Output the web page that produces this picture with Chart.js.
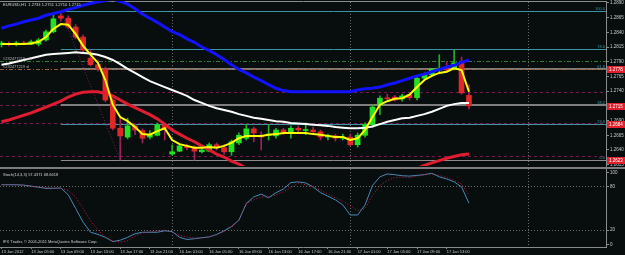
<!DOCTYPE html>
<html>
<head>
<meta charset="utf-8">
<script src="https://cdn.jsdelivr.net/npm/chart.js@4.4.1/dist/chart.umd.min.js"></script>
<style>
  html, body { margin: 0; padding: 0; background: #080e0e; overflow: hidden; }
  #wrap { position: relative; width: 625px; height: 255px; }
  canvas { position: absolute; left: 0; }
  #main { top: 0; }
  #sep { position: absolute; left: 0; top: 167px; width: 625px; height: 2px; background: #7d7d7d; }
  #stoch { top: 169px; }
</style>
</head>
<body>
<div id="wrap">
  <canvas id="main" width="625" height="167"></canvas>
  <div id="sep"></div>
  <canvas id="stoch" width="625" height="86"></canvas>
</div>
<script>
// EURUSD H1, one bar per hour from 13 Jan 01:00 to 17 Jan 16:00
const opens = [1.2819, 1.2820, 1.2819, 1.2822, 1.2820, 1.2820, 1.2827, 1.2841, 1.2868, 1.2864,
  1.2849, 1.2832, 1.2796, 1.2785, 1.2778, 1.2725, 1.2677, 1.2662, 1.2681, 1.2673,
  1.2662, 1.2665, 1.2683, 1.2633, 1.2638, 1.2647, 1.2644, 1.2637, 1.2638, 1.2649,
  1.2644, 1.2637, 1.2652, 1.2660, 1.2676, 1.2664, 1.2665, 1.2664, 1.2674, 1.2669,
  1.2677, 1.2673, 1.2674, 1.2671, 1.2662, 1.2664, 1.2660, 1.2662, 1.2649, 1.2665,
  1.2683, 1.2717, 1.2728, 1.2730, 1.2727, 1.2734, 1.2729, 1.2762, 1.2768, 1.2776,
  1.2778, 1.2779, 1.2788, 1.2733];
const highs = [1.2825, 1.2824, 1.2825, 1.2825, 1.2827, 1.2830, 1.2844, 1.2872, 1.2876, 1.2868,
  1.2853, 1.2836, 1.2810, 1.2793, 1.2781, 1.2728, 1.2694, 1.2694, 1.2684, 1.2676,
  1.2673, 1.2686, 1.2686, 1.2649, 1.2650, 1.2650, 1.2647, 1.2644, 1.2652, 1.2652,
  1.2649, 1.2657, 1.2669, 1.2683, 1.2679, 1.2671, 1.2683, 1.2677, 1.2677, 1.2681,
  1.2681, 1.2686, 1.2679, 1.2674, 1.2667, 1.2667, 1.2667, 1.2667, 1.2669, 1.2686,
  1.2717, 1.2732, 1.2735, 1.2733, 1.2735, 1.2737, 1.2766, 1.2771, 1.2773, 1.2802,
  1.2790, 1.2810, 1.2798, 1.2751];
const lows = [1.2815, 1.2817, 1.2817, 1.2819, 1.2819, 1.2817, 1.2825, 1.2839, 1.2859, 1.2847,
  1.2829, 1.2807, 1.2783, 1.2774, 1.2722, 1.2674, 1.2623, 1.2659, 1.2666, 1.2652,
  1.2659, 1.2664, 1.2657, 1.2631, 1.2637, 1.2640, 1.2623, 1.2635, 1.2637, 1.2640,
  1.2633, 1.2631, 1.2649, 1.2657, 1.2654, 1.2640, 1.2657, 1.2660, 1.2666, 1.2660,
  1.2669, 1.2666, 1.2667, 1.2657, 1.2657, 1.2655, 1.2657, 1.2647, 1.2645, 1.2662,
  1.2679, 1.2700, 1.2723, 1.2723, 1.2723, 1.2725, 1.2725, 1.2759, 1.2766, 1.2773,
  1.2773, 1.2776, 1.2735, 1.2710];
const closes = [1.2822, 1.2819, 1.2822, 1.2820, 1.2824, 1.2827, 1.2841, 1.2863, 1.2864, 1.2849,
  1.2832, 1.2810, 1.2785, 1.2778, 1.2725, 1.2677, 1.2664, 1.2681, 1.2674, 1.2660,
  1.2667, 1.2683, 1.2677, 1.2637, 1.2647, 1.2644, 1.2638, 1.2640, 1.2649, 1.2644,
  1.2637, 1.2654, 1.2665, 1.2676, 1.2669, 1.2662, 1.2667, 1.2674, 1.2671, 1.2677,
  1.2674, 1.2674, 1.2671, 1.2662, 1.2664, 1.2660, 1.2662, 1.2649, 1.2665, 1.2683,
  1.2713, 1.2728, 1.2727, 1.2725, 1.2732, 1.2729, 1.2762, 1.2768, 1.2778, 1.2779,
  1.2776, 1.2788, 1.2737, 1.2715];

// moving averages
const maYellow = [1.2820, 1.2820, 1.2820, 1.2820, 1.2821, 1.2824, 1.2832, 1.2846, 1.2854, 1.2853,
  1.2837, 1.2817, 1.2802, 1.2788, 1.2759, 1.2717, 1.2696, 1.2689, 1.2679, 1.2667,
  1.2666, 1.2672, 1.2677, 1.2657, 1.2650, 1.2647, 1.2644, 1.2644, 1.2645, 1.2644,
  1.2647, 1.2652, 1.2660, 1.2664, 1.2664, 1.2664, 1.2666, 1.2667, 1.2669, 1.2669,
  1.2669, 1.2669, 1.2667, 1.2666, 1.2664, 1.2662, 1.2662, 1.2657, 1.2660, 1.2674,
  1.2696, 1.2717, 1.2723, 1.2727, 1.2728, 1.2734, 1.2747, 1.2759, 1.2766, 1.2771,
  1.2773, 1.2779, 1.2776, 1.2739];
const maWhite = [1.2785, 1.2787, 1.2790, 1.2793, 1.2796, 1.2799, 1.2802, 1.2803, 1.2804, 1.2805,
  1.2806, 1.2805, 1.2804, 1.2802, 1.2798, 1.2793, 1.2786, 1.2778, 1.2771, 1.2764,
  1.2757, 1.2752, 1.2747, 1.2742, 1.2737, 1.2732, 1.2725, 1.2720, 1.2715, 1.2711,
  1.2708, 1.2705, 1.2701, 1.2698, 1.2695, 1.2693, 1.2691, 1.2689, 1.2688, 1.2686,
  1.2685, 1.2684, 1.2683, 1.2682, 1.2681, 1.2679, 1.2678, 1.2677, 1.2677, 1.2678,
  1.2680, 1.2684, 1.2688, 1.2691, 1.2694, 1.2695, 1.2698, 1.2701, 1.2705, 1.2710,
  1.2715, 1.2718, 1.2720, 1.2720];
const maBlue = [1.2847, 1.2851, 1.2854, 1.2858, 1.2861, 1.2864, 1.2869, 1.2872, 1.2875, 1.2879,
  1.2882, 1.2886, 1.2889, 1.2892, 1.2894, 1.2896, 1.2893, 1.2888, 1.2880, 1.2871,
  1.2864, 1.2857, 1.2849, 1.2841, 1.2836, 1.2829, 1.2823, 1.2815, 1.2809, 1.2802,
  1.2794, 1.2785, 1.2777, 1.2771, 1.2764, 1.2758, 1.2751, 1.2745, 1.2741, 1.2739,
  1.2739, 1.2739, 1.2739, 1.2739, 1.2739, 1.2739, 1.2739, 1.2739, 1.2742, 1.2744,
  1.2745, 1.2747, 1.2751, 1.2754, 1.2758, 1.2762, 1.2766, 1.2769, 1.2773, 1.2777,
  1.2781, 1.2784, 1.2789, 1.2793];
const maRed = [1.2688, 1.2691, 1.2695, 1.2699, 1.2703, 1.2708, 1.2713, 1.2718, 1.2723, 1.2730,
  1.2735, 1.2738, 1.2739, 1.2739, 1.2736, 1.2732, 1.2725, 1.2718, 1.2712, 1.2706,
  1.2700, 1.2693, 1.2684, 1.2674, 1.2667, 1.2660, 1.2654, 1.2647, 1.2640, 1.2633,
  1.2628, 1.2621, 1.2616, 1.2609, 1.2603, 1.2597, 1.2592, 1.2588, 1.2584, 1.2581,
  1.2579, 1.2577, 1.2576, 1.2576, 1.2576, 1.2577, 1.2578, 1.2580, 1.2582, 1.2584,
  1.2587, 1.2590, 1.2594, 1.2597, 1.2601, 1.2604, 1.2609, 1.2614, 1.2618, 1.2622,
  1.2626, 1.2629, 1.2632, 1.2633];

// Stoch(14,3,3)
const stochK = [83, 83, 83, 82.5, 81, 79.5, 78, 78, 78.5, 69,
  50, 31, 17, 14, 10, 4, 6, 10, 15, 17,
  17, 17, 19, 18, 10, 7, 8, 9.5, 10.5, 14,
  19, 25, 34, 57, 66, 70, 65, 72, 77, 86,
  87, 85.5, 80, 72, 67, 62, 55, 41, 41, 55,
  82, 94, 98, 97, 95.5, 95, 96, 97, 99, 94,
  91, 87, 80, 57.4371];
const stochD = [83, 83, 82.5, 82, 81, 80, 79, 78.5, 78, 75,
  66, 50, 33, 20, 10, 5, 3.5, 5, 12, 16,
  17.5, 19, 20, 17, 13, 10.5, 9, 9, 11, 13,
  18, 24, 33, 57, 62, 66, 66, 69, 73, 79,
  85, 83, 80, 75, 70, 65, 60, 54, 47, 50,
  68, 82, 89, 93, 93.5, 93, 95, 97, 98, 96,
  93, 89, 84, 68.6618];

// axes
const priceTicks = [1.2615, 1.2640, 1.2665, 1.2690, 1.2715, 1.2740, 1.2765, 1.2790, 1.2815, 1.2840, 1.2865, 1.2890];
const stochTicks = [0, 20, 80, 100];
const stochLevels = [20, 80];
const labelBars = [0, 4, 8, 12, 16, 20, 24, 28, 32, 36, 40, 44, 48, 52, 56, 60];
const timeLabels = ['13 Jan 2012', '13 Jan 05:00', '13 Jan 09:00', '13 Jan 13:00', '13 Jan 17:00', '13 Jan 21:00',
  '16 Jan 01:00', '16 Jan 05:00', '16 Jan 09:00', '16 Jan 13:00', '16 Jan 17:00', '16 Jan 21:00',
  '17 Jan 01:00', '17 Jan 05:00', '17 Jan 09:00', '17 Jan 13:00'];
const gridBars = [23, 47, 71];

// objects on the chart
const fibNames = ['100.0', '78.6', '61.8', '38.2', '23.6', '0.0'];
const fibPrices = [1.2876, 1.2812, 1.2778, 1.2717, 1.2684, 1.2623];
const fibBars = [8, 16];
const pivotPrices = [1.2739, 1.2717, 1.2686, 1.2630];
const orderNames = ['#232477219 sell', '#232477219 sl'];
const orderPrices = [1.2791, 1.2778];
const tagPrices = [1.2778, 1.2715, 1.2684, 1.2623];

const FONT = "'Liberation Sans', sans-serif";
const AXIS = '#8a8a8a';
const GRID = '#6c6c6c';
const TEXT = '#c8c8c8';
const xMin = -0.2, xMax = 81.47;
const fibLook = [
  {color: '#3a94a4', width: 1}, {color: '#3a94a4', width: 1}, {color: '#7e7e7e', width: 2},
  {color: '#7e7e7e', width: 2}, {color: '#3a94a4', width: 1}, {color: '#8c8c8c', width: 1}
];

const bars = opens.map((_, i) => i);
const isUp = bars.map(i => closes[i] >= opens[i]);
const pts = arr => arr.map((v, i) => ({x: i, y: v}));

function maLine(arr, color, width, order) {
  return {type: 'line', data: pts(arr), borderColor: color, borderWidth: width,
    pointRadius: 0, tension: 0, clip: 0, order: order};
}

function hline(ctx, x1, x2, y, color, width, dash) {
  const yy = width % 2 ? Math.round(y) + 0.5 : Math.round(y);
  ctx.save();
  ctx.strokeStyle = color;
  ctx.lineWidth = width;
  ctx.setLineDash(dash || []);
  ctx.beginPath();
  ctx.moveTo(x1, yy);
  ctx.lineTo(x2, yy);
  ctx.stroke();
  ctx.restore();
}

const mainObjects = {
  id: 'mainObjects',
  beforeDatasetsDraw(chart) {
    const {ctx, chartArea: a, scales: {x, y}} = chart;
    ctx.save();
    ctx.beginPath();
    ctx.rect(a.left, a.top, a.right - a.left, a.bottom - a.top);
    ctx.clip();
    pivotPrices.forEach(p => hline(ctx, a.left, a.right, y.getPixelForValue(p), '#761a52', 1, [3, 3]));
    const fx = x.getPixelForValue(fibBars[0]);
    fibPrices.forEach((p, i) => hline(ctx, fx, a.right, y.getPixelForValue(p), fibLook[i].color, fibLook[i].width));
    hline(ctx, a.left, a.right, y.getPixelForValue(orderPrices[0]), '#2f7f3a', 1, [4, 2, 1, 2]);
    hline(ctx, a.left, a.right, y.getPixelForValue(orderPrices[1]), '#9a5a2a', 1, [4, 2, 1, 2]);
    ctx.restore();
  },
  afterDraw(chart) {
    const {ctx, chartArea: a, scales: {y}} = chart;
    const n = opens.length - 1;
    ctx.save();
    ctx.font = '4px ' + FONT;
    ctx.fillStyle = '#d8d8d8';
    ctx.textAlign = 'left';
    ctx.textBaseline = 'top';
    const ohlc = [opens[n], highs[n], lows[n], closes[n]].map(v => v.toFixed(4)).join(' ');
    ctx.fillText('EURUSD,H1  ' + ohlc, 3, 3);

    ctx.textBaseline = 'bottom';
    ctx.fillStyle = '#b4b4b4';
    orderNames.forEach((t, i) => ctx.fillText(t, 3, y.getPixelForValue(orderPrices[i])));

    ctx.textAlign = 'right';
    ctx.fillStyle = '#3a9aaa';
    fibNames.forEach((t, i) => ctx.fillText(t, a.right - 1, y.getPixelForValue(fibPrices[i])));

    ctx.font = '4.5px ' + FONT;
    ctx.textAlign = 'left';
    ctx.textBaseline = 'middle';
    tagPrices.forEach(p => {
      const py = Math.round(y.getPixelForValue(p));
      ctx.fillStyle = '#e0202c';
      ctx.fillRect(a.right + 1, py - 3, 18, 7);
      ctx.fillStyle = '#ffffff';
      ctx.fillText(p.toFixed(4), a.right + 3, py + 0.5);
    });
    ctx.restore();
  }
};

new Chart(document.getElementById('main'), {
  type: 'bar',
  data: {
    datasets: [
      {type: 'line', data: [{x: fibBars[0], y: fibPrices[0]}, {x: fibBars[1], y: fibPrices[5]}],
        borderColor: '#8c1c5c', borderWidth: 1, borderDash: [1, 2], pointRadius: 0, clip: 0, order: 10},
      {data: bars.map(i => ({x: i, y: [lows[i], highs[i]]})),
        backgroundColor: bars.map(i => isUp[i] ? '#22b022' : '#a0205c'),
        barThickness: 1, grouped: false, order: 9},
      {data: bars.map(i => ({x: i, y: [opens[i], closes[i]]})),
        backgroundColor: bars.map(i => isUp[i] ? '#22e022' : '#e02828'),
        barThickness: 5, minBarLength: 1, grouped: false, order: 8},
      maLine(maBlue, '#1212ff', 3, 4),
      maLine(maRed, '#e01c30', 3, 3),
      maLine(maWhite, '#ffffff', 2, 2),
      maLine(maYellow, '#ffff00', 2, 1)
    ]
  },
  options: {
    responsive: false,
    animation: false,
    devicePixelRatio: 1,
    layout: {padding: {top: 1, bottom: 1, left: 0, right: 0}},
    plugins: {legend: {display: false}, tooltip: {enabled: false}},
    scales: {
      x: {
        type: 'linear', position: 'top', min: xMin, max: xMax, offset: false,
        afterBuildTicks: s => { s.ticks = gridBars.map(v => ({value: v})); },
        ticks: {display: false},
        grid: {offset: false, color: GRID, drawTicks: false},
        border: {display: true, color: AXIS, dash: [1, 2]},
        afterFit: s => { s.height = 0; s.paddingLeft = 0; s.paddingRight = 0; }
      },
      y: {
        type: 'linear', position: 'right', min: 1.26128, max: 1.28933, beginAtZero: false,
        afterBuildTicks: s => { s.ticks = priceTicks.map(v => ({value: v})); },
        ticks: {color: TEXT, font: {family: FONT, size: 4.5}, padding: 1, callback: v => v.toFixed(4)},
        grid: {drawOnChartArea: false, tickLength: 3, tickColor: AXIS},
        border: {color: AXIS},
        afterFit: s => { s.width = 19; s.paddingTop = 0; s.paddingBottom = 0; }
      }
    }
  },
  plugins: [mainObjects]
});

const stochText = {
  id: 'stochText',
  afterDraw(chart) {
    const ctx = chart.ctx;
    const n = stochK.length - 1;
    ctx.save();
    ctx.font = '4px ' + FONT;
    ctx.fillStyle = '#d0d0d0';
    ctx.textAlign = 'left';
    ctx.textBaseline = 'top';
    ctx.fillText('Stoch(14,3,3) ' + stochK[n].toFixed(4) + ' ' + stochD[n].toFixed(4), 3, 4);
    ctx.fillText('IFX Trader, \u00a9 2001-2011 MetaQuotes Software Corp.', 3, 71);
    ctx.restore();
  }
};

new Chart(document.getElementById('stoch'), {
  type: 'line',
  data: {
    datasets: [
      {data: pts(stochD), borderColor: '#c0204e', borderWidth: 1, borderDash: [1, 2], pointRadius: 0, tension: 0, clip: 0},
      {data: pts(stochK), borderColor: '#4a88b8', borderWidth: 1, pointRadius: 0, tension: 0, clip: 0}
    ]
  },
  options: {
    responsive: false,
    animation: false,
    devicePixelRatio: 1,
    layout: {padding: 0},
    plugins: {legend: {display: false}, tooltip: {enabled: false}},
    scales: {
      x: {
        type: 'linear', min: xMin, max: xMax, offset: false,
        afterBuildTicks: s => { s.ticks = labelBars.concat(gridBars).sort((a, b) => a - b).map(v => ({value: v})); },
        ticks: {
          autoSkip: false, maxRotation: 0, minRotation: 0, align: 'start', padding: 0,
          color: TEXT, font: {family: FONT, size: 4},
          callback: v => { const k = labelBars.indexOf(v); return k < 0 ? '' : timeLabels[k]; }
        },
        grid: {
          offset: false, tickLength: 2,
          color: c => c.tick && gridBars.includes(c.tick.value) ? GRID : 'rgba(0,0,0,0)',
          tickColor: c => c.tick && labelBars.includes(c.tick.value) ? AXIS : 'rgba(0,0,0,0)'
        },
        border: {color: AXIS, dash: [1, 2]},
        afterFit: s => { s.height = 8; s.paddingLeft = 0; s.paddingRight = 0; }
      },
      y: {
        type: 'linear', position: 'right', min: -3.47, max: 104.86, beginAtZero: false,
        afterBuildTicks: s => { s.ticks = stochTicks.map(v => ({value: v})); },
        ticks: {color: TEXT, font: {family: FONT, size: 4.5}, padding: 1, callback: v => String(v)},
        grid: {
          tickLength: 3, tickColor: AXIS,
          color: c => c.tick && stochLevels.includes(c.tick.value) ? GRID : 'rgba(0,0,0,0)'
        },
        border: {color: AXIS, dash: [1, 2]},
        afterFit: s => { s.width = 19; s.paddingTop = 0; s.paddingBottom = 0; }
      }
    }
  },
  plugins: [stochText]
});
</script>
</body>
</html>
